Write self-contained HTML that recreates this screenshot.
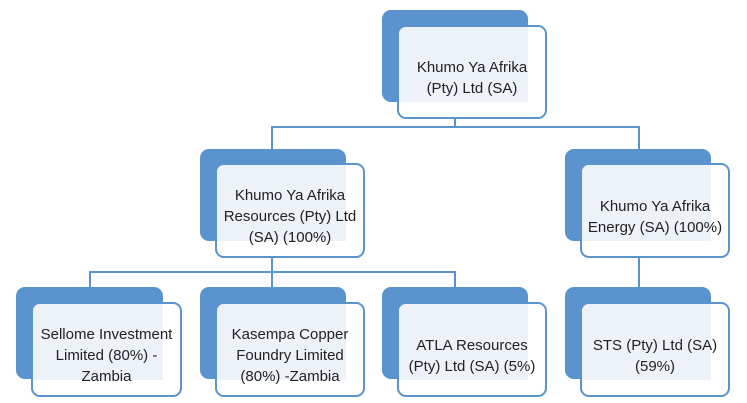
<!DOCTYPE html>
<html><head><style>
body{margin:0;width:747px;height:403px;background:#fff;position:relative;overflow:hidden;font-family:"Liberation Sans",sans-serif}
.b{position:absolute;background:#5b93cf;border-radius:9px}
.f{position:absolute;background:#fff;border:2px solid #5b93cf;border-radius:9px;box-sizing:border-box;display:flex;align-items:center;justify-content:center;text-align:center;font-size:15px;line-height:21px;color:#222;padding-top:12px}
.o{position:absolute;background:#edf1f8}
.l{position:absolute;background:#5b93cf}
span{position:relative;white-space:nowrap}
</style></head><body>
<div class="l" style="left:454px;top:116px;width:2px;height:12px"></div>
<div class="l" style="left:271px;top:126px;width:369px;height:2px"></div>
<div class="l" style="left:271px;top:126px;width:2px;height:26px"></div>
<div class="l" style="left:638px;top:126px;width:2px;height:26px"></div>
<div class="l" style="left:271px;top:256px;width:2px;height:33px"></div>
<div class="l" style="left:89px;top:271px;width:366px;height:2px"></div>
<div class="l" style="left:89px;top:271px;width:2px;height:18px"></div>
<div class="l" style="left:454px;top:271px;width:2px;height:18px"></div>
<div class="l" style="left:638px;top:256px;width:2px;height:33px"></div>

<div class="b" style="left:382px;top:10px;width:146px;height:92px"></div>
<div class="f" style="left:397px;top:25px;width:150px;height:94px"><div class="o" style="left:0;top:0;width:129px;height:75px;border-radius:7px 0 0 0"></div><span>Khumo Ya Afrika<br>(Pty) Ltd (SA)</span></div>

<div class="b" style="left:200px;top:149px;width:146px;height:92px"></div>
<div class="f" style="left:215px;top:163px;width:150px;height:95px"><div class="o" style="left:0;top:0;width:129px;height:76px;border-radius:7px 0 0 0"></div><span>Khumo Ya Afrika<br>Resources (Pty) Ltd<br>(SA) (100%)</span></div>

<div class="b" style="left:565px;top:149px;width:146px;height:92px"></div>
<div class="f" style="left:580px;top:163px;width:150px;height:95px"><div class="o" style="left:0;top:0;width:129px;height:76px;border-radius:7px 0 0 0"></div><span>Khumo Ya Afrika<br>Energy (SA) (100%)</span></div>

<div class="b" style="left:16px;top:287px;width:147px;height:92px"></div>
<div class="f" style="left:31px;top:302px;width:151px;height:95px"><div class="o" style="left:0;top:0;width:130px;height:76px;border-radius:7px 0 0 0"></div><span>Sellome Investment<br>Limited (80%) -<br>Zambia</span></div>

<div class="b" style="left:200px;top:287px;width:146px;height:92px"></div>
<div class="f" style="left:215px;top:302px;width:150px;height:95px"><div class="o" style="left:0;top:0;width:129px;height:76px;border-radius:7px 0 0 0"></div><span>Kasempa Copper<br>Foundry Limited<br>(80%) -Zambia</span></div>

<div class="b" style="left:382px;top:287px;width:146px;height:92px"></div>
<div class="f" style="left:397px;top:302px;width:150px;height:95px"><div class="o" style="left:0;top:0;width:129px;height:76px;border-radius:7px 0 0 0"></div><span>ATLA Resources<br>(Pty) Ltd (SA) (5%)</span></div>

<div class="b" style="left:565px;top:287px;width:146px;height:92px"></div>
<div class="f" style="left:580px;top:302px;width:150px;height:95px"><div class="o" style="left:0;top:0;width:129px;height:76px;border-radius:7px 0 0 0"></div><span>STS (Pty) Ltd (SA)<br>(59%)</span></div>
</body></html>
